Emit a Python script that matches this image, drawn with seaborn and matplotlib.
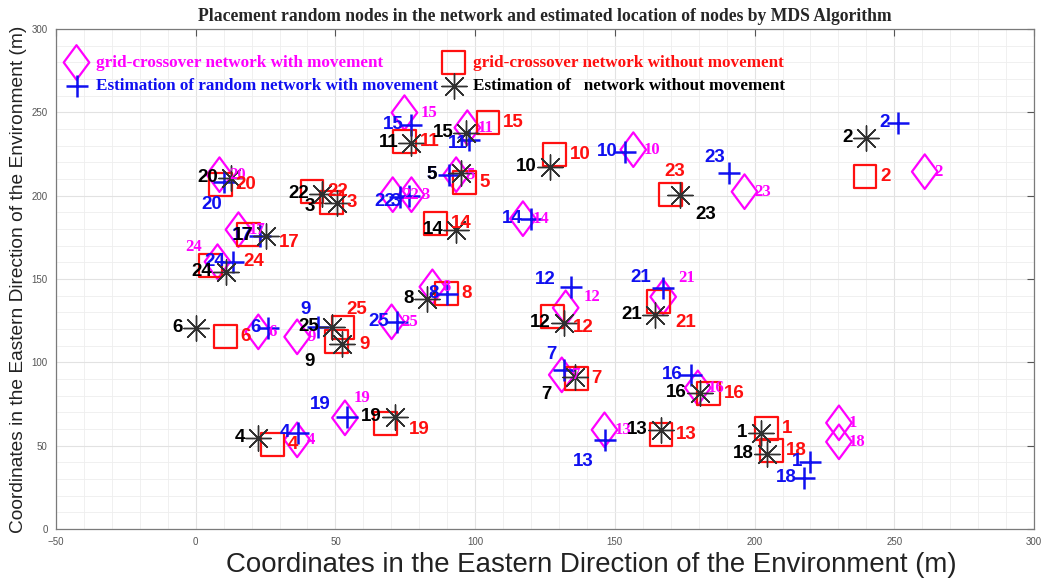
import matplotlib
matplotlib.use("Agg")
import matplotlib.pyplot as plt
import seaborn as sns
import pandas as pd
from matplotlib.path import Path
from matplotlib.ticker import MultipleLocator

# ---------------- data ----------------
node_ids = list(range(1, 26))

grid_move_x = [230.2, 260.9, 77.2, 36.3, 93.2, 22.4, 131.0, 84.7, 36.3, 156.6, 97.2, 132.4, 146.3,
               117.1, 74.7, 179.7, 15.3, 230.2, 53.4, 8.5, 167.3, 70.5, 196.4, 7.8, 70.1]
grid_move_y = [63.7, 214.4, 200.6, 53.5, 212.6, 118.3, 92.5, 145.3, 115.3, 227.6, 240.8, 132.7, 59.5,
               186.2, 249.8, 84.7, 179.6, 52.3, 66.7, 212.6, 139.3, 200.6, 202.4, 160.4, 124.3]
grid_static_x = [204.3, 239.5, 48.6, 27.4, 96.1, 10.7, 136.3, 89.7, 50.5, 128.5, 74.7, 127.8, 166.5,
                 85.8, 104.6, 183.6, 18.9, 206.0, 68.0, 8.9, 165.5, 41.6, 169.8, 5.3, 52.7]
grid_static_y = [60.1, 211.4, 196.0, 50.5, 207.8, 115.3, 90.1, 141.1, 112.3, 224.6, 232.4, 127.3, 56.5,
                 183.2, 243.8, 81.1, 176.6, 47.0, 63.1, 206.6, 136.3, 202.4, 200.6, 158.0, 120.7]
est_move_x = [220.0, 251.2, 76.5, 36.7, 90.7, 26.0, 131.7, 90.0, 43.8, 153.7, 97.9, 134.2, 146.3,
              119.9, 77.2, 177.2, 23.1, 217.8, 54.1, 10.0, 167.3, 73.0, 191.0, 13.5, 72.2]
est_move_y = [40.2, 243.8, 200.0, 57.7, 212.6, 120.7, 95.5, 141.1, 121.3, 226.4, 233.6, 145.3, 53.5,
              186.2, 242.6, 92.5, 176.0, 30.6, 67.3, 208.4, 144.7, 199.4, 213.8, 160.4, 124.3]
est_static_x = [202.2, 239.9, 50.5, 22.4, 95.0, 0.0, 135.6, 82.9, 52.3, 126.7, 77.2, 131.7, 166.5,
                93.2, 96.8, 180.4, 25.3, 204.3, 71.2, 12.5, 164.4, 45.2, 173.3, 10.7, 48.8]
est_static_y = [57.7, 234.8, 195.8, 54.7, 213.8, 120.7, 91.3, 138.1, 111.1, 217.4, 231.8, 123.7, 59.5,
                179.6, 237.8, 81.7, 176.0, 45.0, 67.3, 210.8, 128.5, 201.2, 200.6, 154.4, 121.3]

series_names = ["grid-crossover network with movement",
                "grid-crossover network without movement",
                "Estimation of random network with movement",
                "Estimation of   network without movement"]

title_text = "Placement random nodes in the network and estimated location of nodes by MDS Algorithm"
axis_label = "Coordinates in the Eastern Direction of the Environment (m)"

# ---------------- styling / layout ----------------
sns.set_style("white")
plt.rcParams["font.family"] = ["Liberation Sans", "DejaVu Sans"]

fig = plt.figure(figsize=(10.45, 5.78), dpi=100)
ax = fig.add_axes([56 / 1045, 49 / 578, 978 / 1045, 500 / 578])

diamond = Path([(0, 1), (0.74, 0), (0, -1), (-0.74, 0), (0, 1)],
               [Path.MOVETO, Path.LINETO, Path.LINETO, Path.LINETO, Path.CLOSEPOLY])
asterisk = (8, 2, 0)

C_MAG, C_RED, C_BLUE = "#FF00FF", "#FF1010", "#1010F0"

df_d = pd.DataFrame({"x": grid_move_x, "y": grid_move_y, "n": node_ids})
df_s = pd.DataFrame({"x": grid_static_x, "y": grid_static_y, "n": node_ids})
df_p = pd.DataFrame({"x": est_move_x, "y": est_move_y, "n": node_ids})
df_a = pd.DataFrame({"x": est_static_x, "y": est_static_y, "n": node_ids})

sns.scatterplot(data=df_d, x="x", y="y", ax=ax, marker=diamond, s=620, color=C_MAG,
                facecolor="none", edgecolor=C_MAG, linewidth=1.6, label=series_names[0], zorder=3)
sns.scatterplot(data=df_s, x="x", y="y", ax=ax, marker="s", s=270, color=C_RED,
                facecolor="none", edgecolor=C_RED, linewidth=1.6, label=series_names[1], zorder=3)
sns.scatterplot(data=df_p, x="x", y="y", ax=ax, marker="+", s=230, color=C_BLUE,
                linewidth=1.8, label=series_names[2], zorder=4)
sns.scatterplot(data=df_a, x="x", y="y", ax=ax, marker=asterisk, s=330, color="#303030",
                linewidth=1.0, label=series_names[3], zorder=4)

# ---------------- node labels ----------------
# default offset (pixels, dy positive = downward) and alignment per series
serif = ["Liberation Serif", "DejaVu Serif"]
sans = ["Liberation Sans", "DejaVu Sans"]
label_specs = [
    (df_d, C_MAG, serif, 12, (10, 0, "left"),
     {24: (-24, -15, "center"), 19: (17, -20, "center"), 12: (26, -11, "center"),
      21: (23, -19, "center"), 15: (25, 0, "center")}),
    (df_s, C_RED, sans, 13.5, (15, 0, "left"),
     {23: (5, -23, "center"), 25: (14, -18, "center"), 12: (30, 11, "center"),
      21: (28, 21, "center"), 17: (41, 8, "center"), 24: (43, -4, "center"),
      19: (34, 6, "center"), 9: (28, 3, "center")}),
    (df_p, C_BLUE, sans, 13.5, (-8, 0, "right"),
     {20: (-12, 23, "center"), 23: (-15, -15, "center"), 13: (-21, 22, "center"),
      12: (-25, -7, "center"), 21: (-22, -10, "center"), 7: (-12, -15, "center"),
      19: (-27, -12, "center"), 9: (-13, -17, "center"), 22: (-15, 5, "center"),
      3: (-14, 6, "center"), 11: (-12, 4, "center"), 5: (-17, 0, "center")}),
    (df_a, "black", sans, 13.5, (-13, 0, "right"),
     {23: (26, 20, "center"), 3: (-27, 4, "center"), 9: (-32, 18, "center"),
      7: (-28, 18, "center"), 5: (-30, 2, "center")}),
]
for df, col, fam, fs, default, over in label_specs:
    for x, y, n in zip(df["x"], df["y"], df["n"]):
        dx, dy, ha = over.get(n, default)
        ax.annotate(str(n), (x, y), xytext=(dx, -dy), textcoords="offset pixels",
                    ha=ha, va="center", color=col, fontsize=fs, family=fam,
                    fontweight="bold", zorder=5)

# ---------------- axes ----------------
ax.set_xlim(-50, 300)
ax.set_ylim(0, 300)
ax.xaxis.set_major_locator(MultipleLocator(50))
ax.yaxis.set_major_locator(MultipleLocator(50))
ax.xaxis.set_minor_locator(MultipleLocator(10))
ax.yaxis.set_minor_locator(MultipleLocator(10))
ax.grid(True, which="major", color="#e2e2e2", linewidth=0.8)
ax.grid(True, which="minor", color="#eeeeee", linewidth=0.6)
ax.set_axisbelow(True)
ax.tick_params(which="major", direction="in", length=5, width=0.8, color="#555555",
               top=True, right=True, labelsize=7, labelcolor="#555555", pad=6)
ax.tick_params(which="minor", length=0)
for sp in ax.spines.values():
    sp.set_color("#7a7a7a")
    sp.set_linewidth(0.9)

ax.set_xlabel(axis_label, fontsize=19.9, family=sans, color="#222222")
ax.xaxis.set_label_coords(0.547, -0.071, transform=ax.transAxes)
ax.xaxis.label.set_va("center")
ax.set_ylabel(axis_label, fontsize=13.8, family=sans, color="#222222", labelpad=3)
ax.set_title(title_text, fontsize=12.7, family=serif, fontweight="bold", pad=6)

handles, labels = ax.get_legend_handles_labels()
order = [0, 2, 1, 3]
leg = ax.legend([handles[i] for i in order], [labels[i] for i in order], ncol=2,
                loc="upper left", bbox_to_anchor=(0.0, 0.972), frameon=False,
                prop={"family": serif, "weight": "bold", "size": 12.3},
                labelcolor=[C_MAG, C_BLUE, C_RED, "black"],
                handlelength=1.0, handletextpad=0.65, columnspacing=0.4,
                labelspacing=0.42, borderaxespad=0.3, scatterpoints=1)

fig.savefig("out.png", dpi=100)
